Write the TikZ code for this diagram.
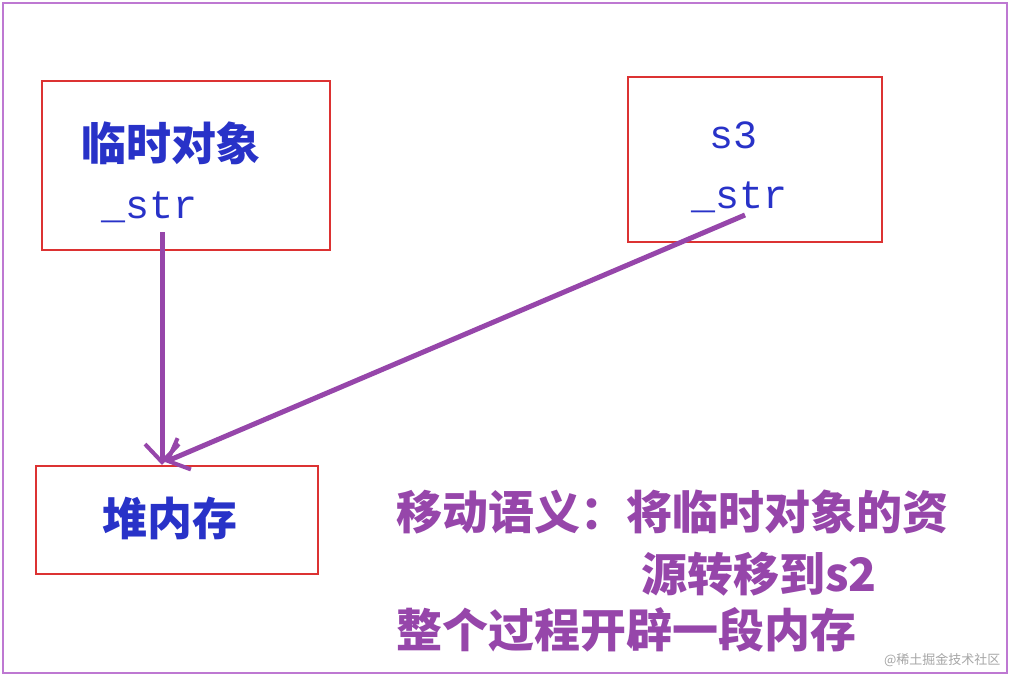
\documentclass[tikz,border=0pt]{standalone}
\usepackage{fontspec}
\newfontfamily\cjk{Noto Sans CJK SC}
\setmonofont{Liberation Mono}
\usetikzlibrary{arrows.meta}
\definecolor{bluet}{RGB}{40,50,200}
\definecolor{purp}{RGB}{150,70,170}
\definecolor{boxred}{RGB}{220,50,50}
\definecolor{frame}{RGB}{190,120,210}
\begin{document}
\begin{tikzpicture}[x=1pt,y=-1pt,
  bx/.style={draw=boxred,line width=1.2pt},
  bt/.style={text=bluet,font=\cjk\bfseries\fontsize{45}{47}\selectfont},
  mt/.style={text=bluet,font=\ttfamily\fontsize{40}{42}\selectfont},
  pt/.style={text=purp,font=\cjk\bfseries\fontsize{46}{48}\selectfont,anchor=west},
  arr/.style={draw=purp,line width=5pt,-{Straight Barb[length=18pt,width=34pt,line width=4pt]}}]
\useasboundingbox (0,0) rectangle (1010,677);
\fill[white] (0,0) rectangle (1010,677);
\draw[frame,line width=1.5pt] (3,3) rectangle (1007,673);
\draw[bx] (42,81) rectangle (330,250);
\draw[bx] (628,77) rectangle (882,242);
\draw[bx] (36,466) rectangle (318,574);
\node[bt] (t1) at (171,143) {临时对象};
\node[mt] (s1) at (150,207) {\_str};
\node[mt] (t2) at (733,135) {s3};
\node[mt] (s2) at (740,197) {\_str};
\node[bt] (h) at (170,518) {堆内存};
\coordinate (a1) at (162,232);
\coordinate (a2) at (745,215);
\coordinate (e1) at (162,465);
\coordinate (e2) at (165,462);
\draw[arr] (a1) -- (e1);
\draw[arr] (a2) -- (e2);
\node[pt] (p1) at (393,512) {移动语义：将临时对象的资};
\node[pt] (p2) at (638,574) {源转移到s2};
\node[pt] (p3) at (393,630) {整个过程开辟一段内存};
\node[text=gray!70,font=\cjk\fontsize{13}{14}\selectfont,anchor=east] (w) at (1004,660) {@稀土掘金技术社区};
\end{tikzpicture}
\end{document}
